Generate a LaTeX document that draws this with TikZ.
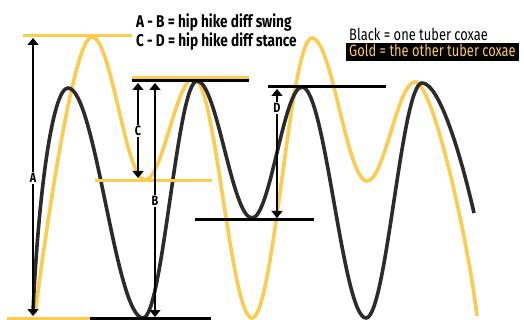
\documentclass[tikz,border=0pt]{standalone}
\usepackage{fontspec}
\usetikzlibrary{arrows.meta,positioning,calc}
\newfontfamily\keyfont[FakeStretch=0.78]{Fira Sans}
\newfontfamily\headfont[FakeStretch=0.8]{Fira Sans}
\definecolor{goldline}{HTML}{FCCB4F}
\definecolor{blackline}{HTML}{2B2B2B}

\begin{document}
\begin{tikzpicture}[x=1pt, y=-1pt,
  gold/.style={goldline, line width=3.6pt},
  dark/.style={blackline, line width=3.6pt},
  goldlevel/.style={goldline, line width=3pt},
  darklevel/.style={black, line width=3pt},
  dim/.style={{Triangle[width=11pt,length=7pt]}-{Triangle[width=11pt,length=7pt]}, line width=1.4pt, black},
  lab/.style={fill=white, inner sep=1pt, font=\headfont\bfseries\fontsize{13.5}{13.5}\selectfont},
  key/.style={anchor=base west, inner sep=0pt, font=\keyfont\fontsize{16.5}{16.5}\selectfont},
  head/.style={anchor=base west, inner sep=0pt, font=\headfont\bfseries\fontsize{17}{17}\selectfont}
]
  \useasboundingbox (0,0) rectangle (524,320);

  % the two traces
  \draw[gold] (35,314) .. controls (50,200) and (75,37) .. (92,37)
    .. controls (111.3,37) and (125.7,180) .. (145,180)
    .. controls (162.8,180) and (176.2,78) .. (194,78)
    .. controls (215.1,78) and (230.9,318) .. (252,318)
    .. controls (273.8,318) and (290.2,38) .. (312,38)
    .. controls (332,38) and (347,181) .. (367,181)
    .. controls (384.5,181) and (397.5,82) .. (415,82)
    .. controls (433,82) and (468,240) .. (477,316);
  \draw[dark] (33,312) .. controls (38,200) and (52,88) .. (68,88)
    .. controls (95.3,88) and (115.7,318) .. (143,318)
    .. controls (162.7,318) and (177.3,81) .. (197,81)
    .. controls (217,81) and (232,218) .. (252,218)
    .. controls (270.2,218) and (283.8,87) .. (302,87)
    .. controls (325.3,87) and (342.7,318) .. (366,318)
    .. controls (386.4,318) and (401.6,83) .. (422,83)
    .. controls (440,83) and (462,160) .. (474,213);

  % levels
  \draw[goldlevel] (23,36) -- (132,36);
  \draw[goldlevel] (132,77.5) -- (249,77.5);
  \draw[darklevel] (132,81) -- (249,81);
  \draw[goldlevel] (95,181) -- (212,181);
  \draw[darklevel] (195,220) -- (314,220);
  \draw[darklevel] (268,87) -- (386,87);
  \draw[goldlevel] (7,318) -- (90,318);
  \draw[darklevel] (90,318) -- (211,318);

  % differences
  \coordinate (Atop) at (33,38);
  \coordinate (Abot) at (33,316);
  \coordinate (Ctop) at (138,83);
  \coordinate (Cbot) at (138,178);
  \coordinate (Btop) at (155,83);
  \coordinate (Bbot) at (155,317);
  \coordinate (Dtop) at (277,89);
  \coordinate (Dbot) at (277,218);
  \draw[dim] (Atop) -- node[lab, pos=0.504] (Alab) {A} (Abot);
  \draw[dim] (Ctop) -- node[lab, pos=0.505] (Clab) {C} (Cbot);
  \draw[dim] (Btop) -- node[lab, pos=0.504] (Blab) {B} (Bbot);
  \draw[dim] (Dtop) -- node[lab, pos=0.147] (Dlab) {D} (Dbot);

  % legend
  \node[head] (swing) at (136,28) {A - B = hip hike diff swing};
  \node[head] (stance) at ([yshift=-19pt]swing.base west) {C - D = hip hike diff stance};
  \node[key] (blackkey) at (349,40.5) {Black = one tuber coxae};
  \node[key, fill=black, text=goldline, inner xsep=3pt, inner ysep=1.5pt, text height=12pt, text depth=3.5pt] (goldkey) at (346,56.5) {Gold = the other tuber coxae};
\end{tikzpicture}
\end{document}
